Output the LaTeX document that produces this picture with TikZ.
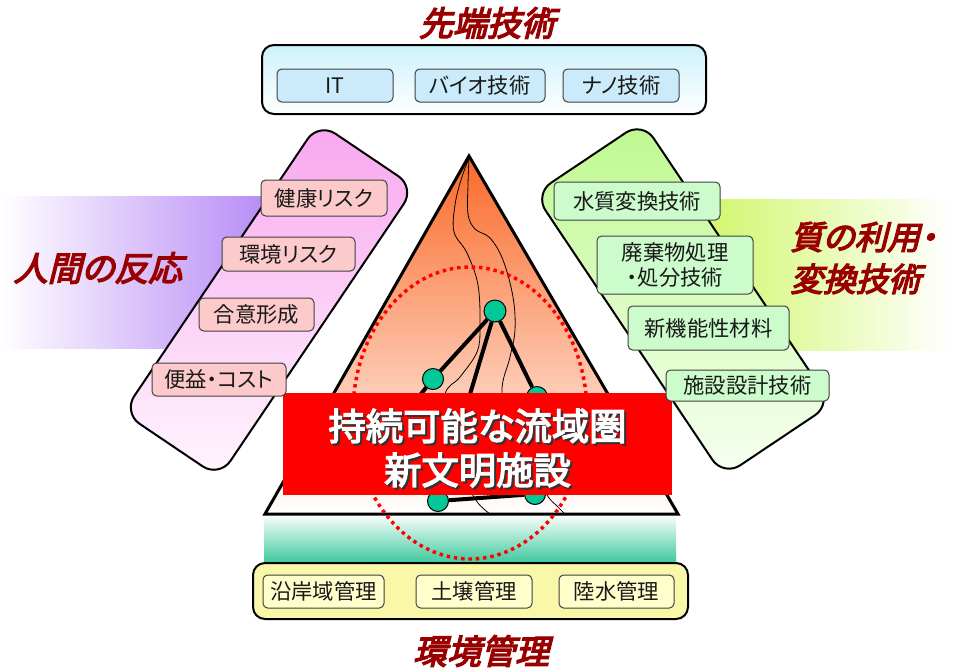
\documentclass[tikz,border=0pt]{standalone}
\usepackage{fontspec}
\setmainfont{Noto Sans CJK JP}[RawFeature=+palt]
\newfontfamily\headfont{Noto Sans CJK JP}[FakeBold=4,FakeSlant=0.25,RawFeature=+palt]
\newfontfamily\corefont{Noto Sans CJK JP}[FakeBold=3.5,RawFeature=+palt]

\definecolor{headred}{HTML}{990000}
\definecolor{pinktop}{HTML}{F8A6EE}
\definecolor{pinkbot}{HTML}{FFF6FE}
\definecolor{greentop}{HTML}{BEF98E}
\definecolor{greenbot}{HTML}{F7FFF2}
\definecolor{bandpurple}{HTML}{B88CF6}
\definecolor{bandgreen}{HTML}{D3F772}
\definecolor{chippink}{HTML}{FCCACA}
\definecolor{chipgreen}{HTML}{CCFCCC}
\definecolor{chipblue}{HTML}{CBEBFA}
\definecolor{chipyellow}{HTML}{FFFFCC}
\definecolor{topfill}{HTML}{CDF2FB}
\definecolor{basefill}{HTML}{F8F8A8}
\definecolor{triorange}{HTML}{FA6928}
\definecolor{seagreen}{HTML}{3CC99C}
\definecolor{nodeteal}{HTML}{00C896}

\tikzset{
  sz/.style 2 args={minimum width=#1*0.75pt, minimum height=#2*0.75pt},
  panel/.style={draw=black, line width=1.5pt, rounded corners=15pt},
  frame/.style={draw=black, line width=1.5pt, rounded corners=9pt},
  chip/.style={draw=black!75, line width=0.75pt, rounded corners=3.5pt, inner sep=0pt,
    align=center, text=black!90, font=\fontsize{16}{19}\selectfont},
  heading/.style={text=headred, inner sep=0pt, font=\headfont\fontsize{25.5}{31.5}\selectfont},
  river/.style={draw=black, line width=0.6pt},
  link/.style={draw=black, line width=3pt},
  site/.style={circle, fill=nodeteal, draw=black, line width=0.75pt, inner sep=0pt, minimum size=21*0.75pt},
}

\begin{document}
\begin{tikzpicture}[x=0.75pt, y=-0.75pt]
\path[fill=white, use as bounding box] (0,0) rectangle (953,669);

% side bands behind the panels
\shade[left color=white, right color=bandpurple] (0,196) rectangle (265,348);
\fill[bandpurple] (265,196) rectangle (290,348);
\fill[bandgreen] (690,199) rectangle (715,350);
\shade[left color=bandgreen, right color=white] (715,199) rectangle (950,350);

% tilted panels
\begin{scope}[shift={(269,300)}, rotate=56]
  \coordinate (lpM) at (175,0);
  \coordinate (lpA) at (175,-58);
  \coordinate (lpB) at (175,58);
  \coordinate (lpC) at (-175,58);
  \coordinate (lpD) at (-175,-58);
\end{scope}
\begin{scope}[shift={(683,299)}, rotate=-56.2]
  \coordinate (rpM) at (170,0);
  \coordinate (rpA) at (170,-65);
  \coordinate (rpB) at (170,65);
  \coordinate (rpC) at (-170,65);
  \coordinate (rpD) at (-170,-65);
\end{scope}
\shade[panel, top color=pinktop, bottom color=pinkbot]
  (lpM) -- (lpB) -- (lpC) -- (lpD) -- (lpA) -- cycle;
\shade[panel, top color=greentop, bottom color=greenbot]
  (rpM) -- (rpB) -- (rpC) -- (rpD) -- (rpA) -- cycle;

% headings
\node[heading] (hTop) at (487,23) {先端技術};
\node[heading] (hBottom) at (481,651) {環境管理};
\node[heading] (hLeft) at (98,268) {人間の反応};
\node[heading, anchor=west, align=left, font=\headfont\fontsize{24.5}{31.5}\selectfont] (hRight) at (790,258) {質の利用・\\変換技術};

% top frame
\shade[frame, top color=topfill, bottom color=white] (262,45) rectangle (706,114);
\node[chip, fill=chipblue, sz={116}{33}] (it)   at (335,85.5) {IT};
\node[chip, fill=chipblue, sz={130}{33}] (bio)  at (480,85.5) {バイオ技術};
\node[chip, fill=chipblue, sz={116}{33}] (nano) at (621,85.5) {ナノ技術};

% band under the triangle and bottom frame
\shade[top color=white, bottom color=seagreen] (264,514) rectangle (676,563);
\draw[frame, fill=basefill] (253,563) rectangle (688,619);
\node[chip, fill=chipyellow, sz={121}{33}] (coast) at (323.5,591.5) {沿岸域管理};
\node[chip, fill=chipyellow, sz={116}{33}] (soil)  at (474,591.5) {土壌管理};
\node[chip, fill=chipyellow, sz={115}{33}] (inland) at (616.5,591.5) {陸水管理};

% triangle
\coordinate (apex) at (469,156);
\coordinate (tl) at (265,514);
\coordinate (tr) at (678,514);
\shade[top color=triorange, bottom color=white] (apex) -- (tr) -- (tl) -- cycle;

% rivers
\draw[river] plot[smooth, tension=0.6] coordinates {(469,158) (461,180) (455,205) (454,232) (467,253) (478,285) (480,327) (477,352) (460,377) (445,395) (450,440) (468,485) (478,503) (490,514)};
\draw[river] plot[smooth, tension=0.6] coordinates {(469,158) (468,185) (468,214) (475,229) (490,238) (503,260) (513,297) (515,330) (510,357) (502,393) (515,440) (545,492) (556,505) (566,515)};

% network
\node[site, minimum size=22*0.75pt] (n1) at (495,311) {};
\node[site] (n2) at (433,379) {};
\node[site] (n3) at (537,397) {};
\node[site] (n4) at (438,501) {};
\node[site] (n5) at (535,494) {};
\coordinate (n2tail) at (400,420);
\draw[link] (n1) -- (n2);
\draw[link] (n1) -- (n3);
\draw[link] (n1) -- (n4);
\draw[link] (n2) -- (n2tail);
\draw[link] (n4) -- (n5);

\draw[draw=black, line width=2.25pt, line join=miter] (apex) -- (tr) -- (tl) -- cycle;

% catchment outline
\draw[red, line width=2.6pt, dash pattern=on 2.6pt off 2.9pt] (470,413) ellipse [x radius=117, y radius=146];

% central label
\node[fill=red, inner sep=0pt, sz={389}{102}] (core) at (477.5,444) {};
\node[text=black!80, align=center, font=\corefont\fontsize{28}{33}\selectfont] (coreshade) at (479.5,450) {持続可能な流域圏\\新文明施設};
\node[text=white, align=center, font=\corefont\fontsize{28}{33}\selectfont] (coretext) at (477.5,448) {持続可能な流域圏\\新文明施設};

% panel items
\node[chip, fill=chippink, sz={126}{36}] (health) at (324,198) {健康リスク};
\node[chip, fill=chippink, sz={133}{34}] (envrisk) at (288.5,254) {環境リスク};
\node[chip, fill=chippink, sz={115}{33}] (consensus) at (256.5,314.5) {合意形成};
\node[chip, fill=chippink, sz={134}{33}] (cost) at (219,379.5) {便益・コスト};

\node[chip, fill=chipgreen, sz={166}{38}] (water) at (637,201) {水質変換技術};
\node[chip, fill=chipgreen, sz={156}{58}] (waste) at (675,265) {廃棄物処理\\・処分技術};
\node[chip, fill=chipgreen, sz={161}{44}] (material) at (708.5,328) {新機能性材料};
\node[chip, fill=chipgreen, sz={163}{31}] (design) at (747.5,385.5) {施設設計技術};
\end{tikzpicture}
\end{document}
